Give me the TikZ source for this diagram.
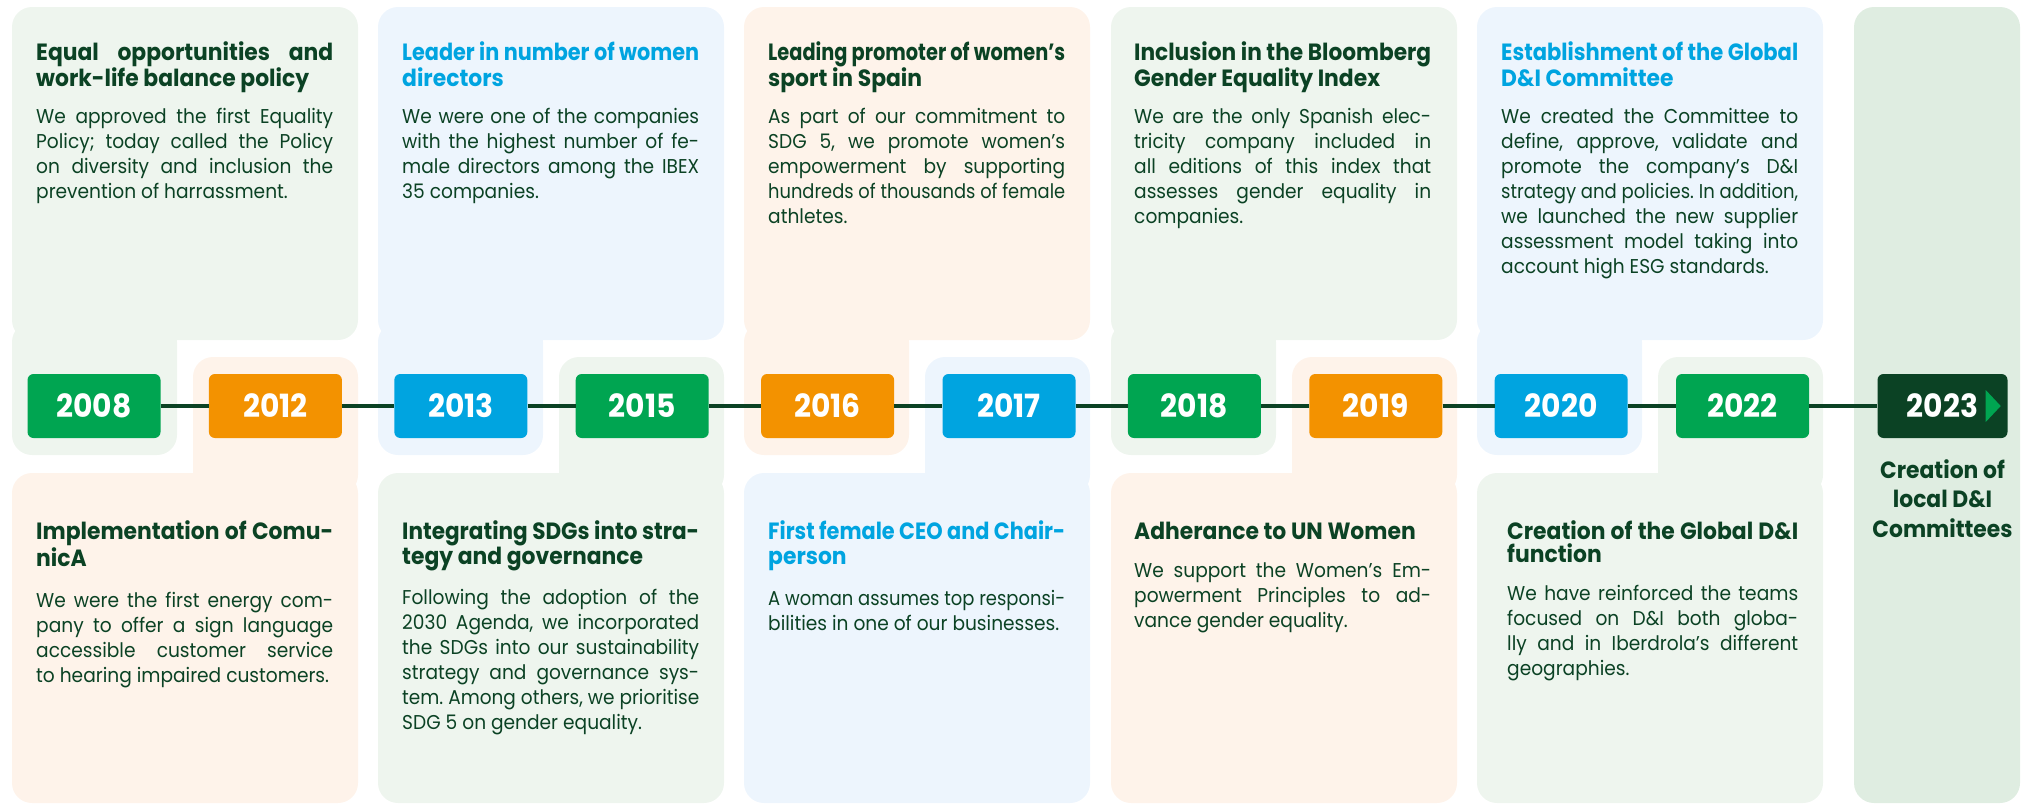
\documentclass[tikz,border=0pt]{standalone}
\usepackage{fontspec}
\usepackage{graphicx}
\setmainfont{Poppins}[FakeStretch=0.93]
\usetikzlibrary{positioning}

\definecolor{ibgreen}{HTML}{00A551}
\definecolor{iborange}{HTML}{F39200}
\definecolor{ibblue}{HTML}{00A4E0}
\definecolor{ibdark}{HTML}{0B4224}
\definecolor{palegreen}{HTML}{EEF5EE}
\definecolor{paleorange}{HTML}{FEF3EA}
\definecolor{paleblue}{HTML}{EDF5FD}
\definecolor{columngreen}{HTML}{DFEDE1}

% a justified line: spread out when short, squeezed when too long
\newcommand\fitline[1]{\leavevmode\spaceskip=0pt\xspaceskip=0pt\sbox0{#1}%
    \ifdim\wd0>\linewidth\resizebox{\linewidth}{\height}{#1}%
    \else\hbox to\linewidth{#1}\fi}
% a closing line: only squeezed when too long
\newcommand\fitlast[1]{\leavevmode\spaceskip=0pt\xspaceskip=0pt\sbox0{#1}%
    \ifdim\wd0>\linewidth\resizebox{\linewidth}{\height}{#1}%
    \else\usebox0\fi}

\begin{document}
\begin{tikzpicture}[
    x=1pt, y=-1pt,
    card/.style={rounded corners=20pt},
    year/.style={rounded corners=6pt, minimum width=133pt, minimum height=64pt,
                 inner sep=0pt, text=white,
                 font=\fontsize{32}{32}\selectfont\bfseries},
    entry/.style={anchor=base west, inner sep=0pt, text width=297pt,
                  align=justify, text=ibdark,
                  font=\fontsize{20}{25}\selectfont\frenchspacing},
    tline/.style={ibdark, line width=3.5pt}
]
\useasboundingbox (0,0) rectangle (2025,806);

% cards: a wide block plus a narrow tab around the year box
\fill[palegreen, card] (12,7) rectangle (358,340);
\fill[palegreen, card] (12,322) rectangle (177,455);
\fill[paleorange, card] (193,357) rectangle (358,495);
\fill[paleorange, card] (12,473) rectangle (358,803);

\fill[paleblue, card] (378,7) rectangle (724,340);
\fill[paleblue, card] (378,322) rectangle (543,455);
\fill[palegreen, card] (559,357) rectangle (724,495);
\fill[palegreen, card] (378,473) rectangle (724,803);

\fill[paleorange, card] (744,7) rectangle (1090,340);
\fill[paleorange, card] (744,322) rectangle (909,455);
\fill[paleblue, card] (925,357) rectangle (1090,495);
\fill[paleblue, card] (744,473) rectangle (1090,803);

\fill[palegreen, card] (1111,7) rectangle (1457,340);
\fill[palegreen, card] (1111,322) rectangle (1276,455);
\fill[paleorange, card] (1292,357) rectangle (1457,495);
\fill[paleorange, card] (1111,473) rectangle (1457,803);

\fill[paleblue, card] (1477,7) rectangle (1823,340);
\fill[paleblue, card] (1477,322) rectangle (1642,455);
\fill[palegreen, card] (1658,357) rectangle (1823,495);
\fill[palegreen, card] (1477,473) rectangle (1823,803);

\fill[columngreen, card] (1854,7) rectangle (2020,803);

% years on the time line
\node[year, fill=ibgreen] (y2008) at (94,406) {2008};
\node[year, fill=iborange, right=48pt of y2008] (y2012) {2012};
\node[year, fill=ibblue, right=52pt of y2012] (y2013) {2013};
\node[year, fill=ibgreen, right=48pt of y2013] (y2015) {2015};
\node[year, fill=iborange, right=52pt of y2015] (y2016) {2016};
\node[year, fill=ibblue, right=48pt of y2016] (y2017) {2017};
\node[year, fill=ibgreen, right=52pt of y2017] (y2018) {2018};
\node[year, fill=iborange, right=48pt of y2018] (y2019) {2019};
\node[year, fill=ibblue, right=52pt of y2019] (y2020) {2020};
\node[year, fill=ibgreen, right=48pt of y2020] (y2022) {2022};
\node[year, fill=ibdark, minimum width=130pt, right=68pt of y2022] (y2023)
    {2023\hspace{16pt}};
\fill[ibgreen] ([xshift=-22pt, yshift=16pt]y2023.east)
    -- ++(15,16) -- ++(-15,16) -- cycle;

\draw[tline] (y2008) -- (y2012);
\draw[tline] (y2012) -- (y2013);
\draw[tline] (y2013) -- (y2015);
\draw[tline] (y2015) -- (y2016);
\draw[tline] (y2016) -- (y2017);
\draw[tline] (y2017) -- (y2018);
\draw[tline] (y2018) -- (y2019);
\draw[tline] (y2019) -- (y2020);
\draw[tline] (y2020) -- (y2022);
\draw[tline] (y2022) -- (y2023);

% upper texts
\node[entry] (t2008) at (36,60)
    {{\bfseries\fontsize{23.5}{26}\selectfont
      \fitline{Equal opportunities and}\\
      \fitlast{work-life balance policy}\par}
     \vspace{12pt}
     \fitline{We approved the first Equality}\\
     \fitline{Policy; today called the Policy}\\
     \fitline{on diversity and inclusion the}\\
     \fitlast{prevention of harrassment.}};
\node[entry] (t2013) at (402,60)
    {{\bfseries\fontsize{23.5}{26}\selectfont\color{ibblue}
      \fitline{Leader in number of women}\\
      \fitlast{directors}\par}
     \vspace{12pt}
     \fitline{We were one of the companies}\\
     \fitline{with the highest number of fe-}\\
     \fitline{male directors among the IBEX}\\
     \fitlast{35 companies.}};
\node[entry] (t2016) at (768,60)
    {{\bfseries\fontsize{23.5}{26}\selectfont
      \fitline{Leading promoter of women's}\\
      \fitlast{sport in Spain}\par}
     \vspace{12pt}
     \fitline{As part of our commitment to}\\
     \fitline{SDG 5, we promote women's}\\
     \fitline{empowerment by supporting}\\
     \fitline{hundreds of thousands of female}\\
     \fitlast{athletes.}};
\node[entry] (t2018) at (1134,60)
    {{\bfseries\fontsize{23.5}{26}\selectfont
      \fitline{Inclusion in the Bloomberg}\\
      \fitlast{Gender Equality Index}\par}
     \vspace{12pt}
     \fitline{We are the only Spanish elec-}\\
     \fitline{tricity company included in}\\
     \fitline{all editions of this index that}\\
     \fitline{assesses gender equality in}\\
     \fitlast{companies.}};
\node[entry] (t2020) at (1501,60)
    {{\bfseries\fontsize{23.5}{26}\selectfont\color{ibblue}
      \fitline{Establishment of the Global}\\
      \fitlast{D\&I Committee}\par}
     \vspace{12pt}
     \fitline{We created the Committee to}\\
     \fitline{define, approve, validate and}\\
     \fitline{promote the company's D\&I}\\
     \fitline{strategy and policies. In addition,}\\
     \fitline{we launched the new supplier}\\
     \fitline{assessment model taking into}\\
     \fitlast{account high ESG standards.}};

% lower texts
\node[entry] (t2012) at (36,539.5)
    {{\bfseries\fontsize{23.5}{27.4}\selectfont
      \fitline{Implementation of Comu-}\\
      \fitlast{nicA}\par}
     \vspace{16pt}
     \fitline{We were the first energy com-}\\
     \fitline{pany to offer a sign language}\\
     \fitline{accessible customer service}\\
     \fitlast{to hearing impaired customers.}};
\node[entry] (t2015) at (402,539.5)
    {{\bfseries\fontsize{23.5}{22.5}\selectfont
      \fitline{Integrating SDGs into stra-}\\
      \fitlast{tegy and governance}\par}
     \fontsize{20}{23.6}\selectfont
     \vspace{15.5pt}
     \fitline{Following the adoption of the}\\
     \fitline{2030 Agenda, we incorporated}\\
     \fitline{the SDGs into our sustainability}\\
     \fitline{strategy and governance sys-}\\
     \fitline{tem. Among others, we prioritise}\\
     \fitlast{SDG 5 on gender equality.}};
\node[entry] (t2017) at (768,539.5)
    {{\bfseries\fontsize{23.5}{25}\selectfont\color{ibblue}
      \fitline{First female CEO and Chair-}\\
      \fitlast{person}\par}
     \fontsize{20}{23.5}\selectfont
     \vspace{15.5pt}
     \fitline{A woman assumes top responsi-}\\
     \fitlast{bilities in one of our businesses.}};
\node[entry] (t2019) at (1134,539.5)
    {{\bfseries\fontsize{23.5}{26}\selectfont
      \fitlast{Adherance to UN Women}\par}
     \fontsize{20}{25.5}\selectfont
     \vspace{12.5pt}
     \fitline{We support the Women's Em-}\\
     \fitline{powerment Principles to ad-}\\
     \fitlast{vance gender equality.}};
\node[entry, text width=291pt] (t2022) at (1507,539.5)
    {{\bfseries\fontsize{23.5}{23.3}\selectfont
      \fitline{Creation of the Global D\&I}\\
      \fitlast{function}\par}
     \fontsize{20}{24}\selectfont
     \vspace{13pt}
     \fitline{We have reinforced the teams}\\
     \fitline{focused on D\&I both globa-}\\
     \fitline{lly and in Iberdrola's different}\\
     \fitlast{geographies.}};

\node[below=21pt of y2023, inner sep=0pt, align=center, text=ibdark,
      font=\fontsize{23.5}{29.5}\selectfont\bfseries] (t2023)
    {Creation of\\ local D\&I\\ Committees};

\end{tikzpicture}
\end{document}
